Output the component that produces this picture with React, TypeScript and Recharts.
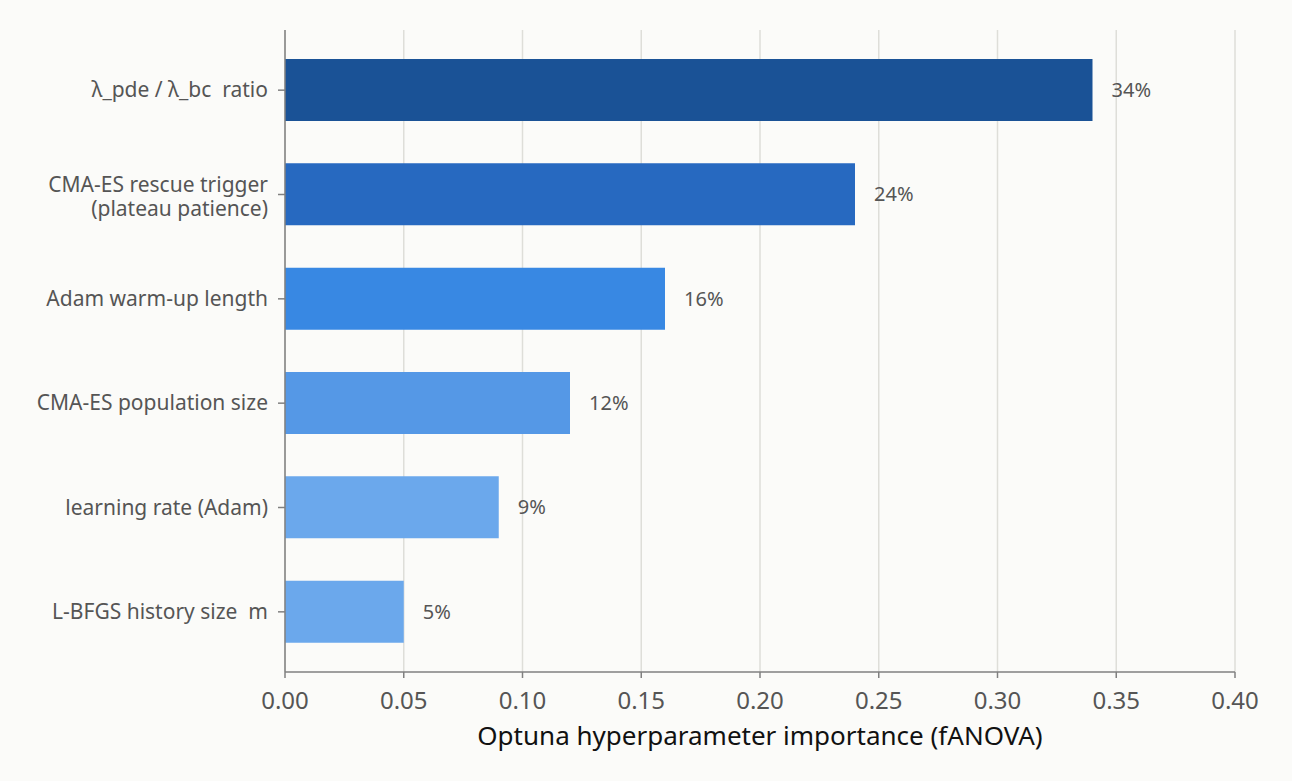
import React from 'react';
import { BarChart, Bar, XAxis, YAxis, CartesianGrid, Cell, LabelList } from 'recharts';

// Hyperparameters, most important first
const categories = [
    'λ_pde / λ_bc  ratio',
    'CMA-ES rescue trigger\n(plateau patience)',
    'Adam warm-up length',
    'CMA-ES population size',
    'learning rate (Adam)',
    'L-BFGS history size  m',
];
const importance = [0.34, 0.24, 0.16, 0.12, 0.09, 0.05];
const xTicks = [0, 0.05, 0.1, 0.15, 0.2, 0.25, 0.3, 0.35, 0.4];

const BAR_COLORS = ['#1a5296', '#2769c0', '#3888e3', '#5598e6', '#6ba8ec', '#6ba8ec'];
const FONT = '"Segoe UI", "Noto Sans", "Open Sans", sans-serif';

const data = categories.map((name, i) => ({ name, value: importance[i] }));

// y tick label, supports two-line names (first line sits on the tick)
const CategoryTick = (props: any) => {
    const { x, y, payload } = props;
    const lines = String(payload.value).split('\n');
    const lineH = 24;
    const first = lines.length > 1 ? -3 : 7;
    return (
        <text x={x} y={y} textAnchor="end" fill="#555" fontSize={21} fontFamily={FONT}>
            {lines.map((l, i) => (
                <tspan key={i} x={x} dy={i === 0 ? first : lineH} style={{ whiteSpace: 'pre' }}>{l}</tspan>
            ))}
        </text>
    );
};

const App: React.FC = () => {
    return (
        <div style={{ position: 'absolute', left: 0, top: 0, width: 1292, height: 781, background: '#fbfbf9' }}>
            <BarChart
                width={1292}
                height={781}
                data={data}
                layout="vertical"
                margin={{ top: 30, right: 57, bottom: 29, left: 0 }}
            >
                <CartesianGrid horizontal={false} stroke="#deded9" strokeWidth={1.5} />
                <XAxis
                    type="number"
                    domain={[0, 0.4]}
                    ticks={xTicks}
                    tickFormatter={(v: number) => v.toFixed(2)}
                    height={80}
                    stroke="#808080"
                    strokeWidth={1.5}
                    tickSize={6}
                    tickMargin={14}
                    tick={{ fill: '#555', fontSize: 24, fontFamily: FONT }}
                    label={{
                        value: 'Optuna hyperparameter importance (fANOVA)',
                        position: 'insideBottom',
                        offset: 7,
                        fill: '#111',
                        fontSize: 26,
                        fontFamily: FONT,
                    }}
                />
                <YAxis
                    type="category"
                    dataKey="name"
                    width={285}
                    padding={{ top: 8, bottom: 8 }}
                    stroke="#808080"
                    strokeWidth={1.5}
                    tickSize={7}
                    tickMargin={10}
                    tick={<CategoryTick />}
                    interval={0}
                />
                <Bar dataKey="value" barSize={62} isAnimationActive={false}>
                    {data.map((_, i) => (
                        <Cell key={i} fill={BAR_COLORS[i]} />
                    ))}
                    <LabelList
                        dataKey="value"
                        position="right"
                        offset={19}
                        formatter={(v: any) => `${Math.round(Number(v) * 100)}%`}
                        fill="#555"
                        fontSize={20}
                        fontFamily={FONT}
                    />
                </Bar>
            </BarChart>
        </div>
    );
};

export default App;
